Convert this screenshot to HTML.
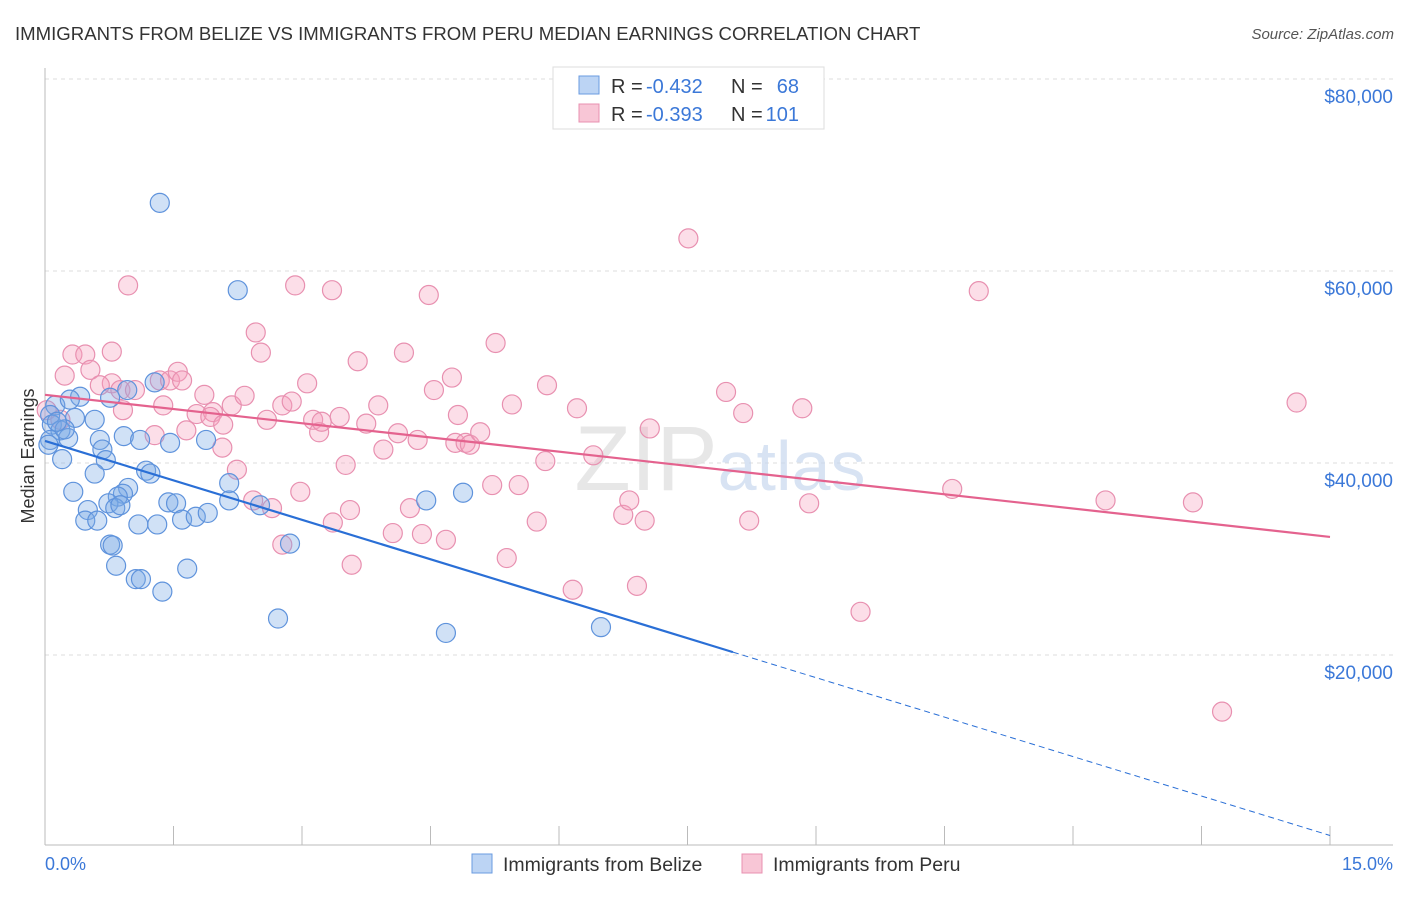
<!DOCTYPE html>
<html><head><meta charset="utf-8"><style>
body{margin:0;background:#fff;font-family:"Liberation Sans",sans-serif}
svg text{font-family:"Liberation Sans",sans-serif}
</style></head><body>
<svg width="1406" height="892" viewBox="0 0 1406 892" xmlns="http://www.w3.org/2000/svg">
<text x="15" y="40" font-size="18.6" fill="#333">IMMIGRANTS FROM BELIZE VS IMMIGRANTS FROM PERU MEDIAN EARNINGS CORRELATION CHART</text>
<text x="1394" y="39" font-size="15" fill="#555" text-anchor="end" font-style="italic">Source: ZipAtlas.com</text>
<g id="grid"></g>
<text x="720" y="490" font-size="92" fill="#ddd" text-anchor="middle" font-family="Liberation Serif" opacity="0.7">ZIP<tspan fill="#c8d8ee" font-family="Liberation Sans" font-size="70">atlas</tspan></text>
<g id="pts"></g>
<g id="lines"></g>
<text transform="translate(34,456) rotate(-90)" font-size="18" fill="#333" text-anchor="middle">Median Earnings</text>
<text x="45" y="870" font-size="18" fill="#3b78d8">0.0%</text>
<text x="1393" y="870" font-size="18" fill="#3b78d8" text-anchor="end">15.0%</text>
<g>
<rect x="553" y="67" width="271" height="62" fill="#fff" stroke="#ddd"/>
<rect x="579" y="76" width="20" height="18" fill="#bcd4f4" stroke="#6a9be0"/>
<rect x="579" y="104" width="20" height="18" fill="#f8c6d6" stroke="#e890b0"/>
<text x="611" y="93" font-size="20" fill="#333">R =</text>
<text x="646" y="93" font-size="20" fill="#3b78d8">-0.432</text>
<text x="731" y="93" font-size="20" fill="#333">N =</text>
<text x="799" y="93" font-size="20" fill="#3b78d8" text-anchor="end">68</text>
<text x="611" y="121" font-size="20" fill="#333">R =</text>
<text x="646" y="121" font-size="20" fill="#3b78d8">-0.393</text>
<text x="731" y="121" font-size="20" fill="#333">N =</text>
<text x="799" y="121" font-size="20" fill="#3b78d8" text-anchor="end">101</text>
</g>
<g>
<rect x="472" y="854" width="20" height="19" fill="#bcd4f4" stroke="#6a9be0"/>
<text x="503" y="871" font-size="19.5" fill="#333">Immigrants from Belize</text>
<rect x="742" y="854" width="20" height="19" fill="#f8c6d6" stroke="#e890b0"/>
<text x="773" y="871" font-size="19.5" fill="#333">Immigrants from Peru</text>
</g>
</svg>
<script>
const yTicks=[20000,40000,60000,80000];
const yTickLabels=["$20,000","$40,000","$60,000","$80,000"];
const xTicks=[0,1.5,3,4.5,6,7.5,9,10.5,12,13.5,15];
const belizeX=[1.34,2.25,1.28,0.96,0.76,0.41,0.12,0.06,0.35,0.58,0.08,0.18,0.27,0.64,0.92,1.11,1.46,1.88,0.06,0.67,0.20,0.71,1.18,1.23,0.58,0.33,0.97,0.91,0.85,0.74,1.44,1.53,2.15,2.15,2.51,0.50,0.82,0.88,0.47,0.61,1.09,1.31,1.60,1.76,1.90,0.76,0.79,0.83,1.06,1.12,1.66,1.37,2.72,2.86,4.45,4.88,4.68,6.49,0.23,0.04,0.14,0.29];
const belizeY=[67.1,58.0,48.4,47.6,46.8,46.9,46.0,45.0,44.7,44.5,44.0,43.4,42.6,42.4,42.8,42.4,42.1,42.4,42.4,41.4,40.4,40.3,39.2,38.9,38.9,37.0,37.4,36.8,36.5,35.8,35.9,35.8,37.9,36.1,35.6,35.1,35.3,35.6,34.0,34.0,33.6,33.6,34.1,34.4,34.8,31.5,31.4,29.3,27.9,27.9,29.0,26.6,23.8,31.6,36.1,36.9,22.3,22.9,43.5,41.9,44.3,46.6];
const peruX=[0.02,0.18,0.32,0.47,0.23,0.53,0.78,0.97,0.78,0.64,0.88,0.91,1.05,1.34,1.46,1.55,1.60,1.38,1.28,1.65,1.77,1.86,1.96,1.93,2.08,2.07,2.18,2.24,2.33,2.46,2.52,2.59,2.43,2.65,2.77,2.92,2.77,2.88,2.98,3.06,3.13,3.20,3.23,3.35,3.36,3.44,3.51,3.56,3.58,3.65,3.75,3.89,3.95,4.06,4.12,4.19,4.26,4.35,4.40,4.48,4.54,4.68,4.75,4.79,4.82,4.91,4.96,5.08,5.22,5.26,5.39,5.45,5.53,5.74,5.84,5.86,6.16,6.21,6.40,6.75,6.82,6.91,7.00,7.06,7.51,7.95,8.15,8.22,8.84,8.92,9.52,10.59,10.90,12.38,13.40,13.74,14.61];
const peruY=[45.5,44.5,51.3,51.3,49.1,49.7,51.6,58.5,48.3,48.1,47.6,45.5,47.6,48.6,48.6,49.5,48.6,46.0,42.9,43.4,45.1,47.1,45.3,44.8,44.0,41.6,46.0,39.3,47.0,53.6,51.5,44.5,36.1,35.3,31.5,58.5,46.0,46.4,37.0,48.3,44.5,43.2,44.3,58.0,33.8,44.8,39.8,35.1,29.4,50.6,44.1,46.0,41.4,32.7,43.1,51.5,35.3,42.4,32.6,57.5,47.6,32.0,48.9,42.1,45.0,42.1,41.9,43.2,37.7,52.5,30.1,46.1,37.7,33.9,40.2,48.1,26.8,45.7,40.8,34.6,36.1,27.2,34.0,43.6,63.4,47.4,45.2,34.0,45.7,35.8,24.5,37.3,57.9,36.1,35.9,14.1,46.3];
const belizeTrend=[[0,42.3],[8.03,20.3],[15,1.2]];
const peruTrend=[[0,47.1],[15,32.3]];
const NS="http://www.w3.org/2000/svg";
const sx=v=>45+v*(1330-45)/15;
const sy=v=>847-v*9.6;
function mk(tag,attrs,parent){const e=document.createElementNS(NS,tag);for(const k in attrs)e.setAttribute(k,attrs[k]);parent.appendChild(e);return e;}
const grid=document.getElementById('grid');
yTicks.forEach((t,i)=>{
 const y=sy(t/1000);
 const l=mk('line',{x1:45,x2:1393,y1:y,y2:y,stroke:'#ddd','stroke-dasharray':'4,4'},grid);
 
 
 const tx=mk('text',{x:1393,y:y+24,'font-size':19,fill:'#3b78d8','text-anchor':'end'},grid);
 tx.textContent=yTickLabels[i];
 
 
});
const topGrid=mk('line',{x1:45,x2:1393,y1:79,y2:79,stroke:'#ddd','stroke-dasharray':'4,4'},grid);


const ax=mk('line',{x1:45,x2:1393,y1:845,y2:845,stroke:'#bbb'},grid);


const ay=mk('line',{x1:45,x2:45,y1:68,y2:845,stroke:'#bbb'},grid);


xTicks.forEach(t=>{
 const x=sx(t);
 const l=mk('line',{x1:x,x2:x,y1:826,y2:845,stroke:'#bbb'},grid);
 
 
});
const pts=document.getElementById('pts');
function drawSeries(X,Y,fill,stroke,name){
 X.forEach((x,i)=>{
  const c=mk('circle',{cx:sx(x),cy:sy(Y[i]),r:9.5,fill:fill,stroke:stroke,'stroke-width':1.2},pts);
  
  
 });
}
drawSeries(peruX,peruY,'rgba(245,160,190,0.35)','#e890b0','peru-point');
drawSeries(belizeX,belizeY,'rgba(120,170,230,0.35)','#5f93dc','belize-point');
const lines=document.getElementById('lines');
const b1=mk('line',{x1:sx(belizeTrend[0][0]),y1:sy(belizeTrend[0][1]),x2:sx(belizeTrend[1][0]),y2:sy(belizeTrend[1][1]),stroke:'#2a6fd6','stroke-width':2.2},lines);


const b2=mk('line',{x1:sx(belizeTrend[1][0]),y1:sy(belizeTrend[1][1]),x2:sx(belizeTrend[2][0]),y2:sy(belizeTrend[2][1]),stroke:'#2a6fd6','stroke-width':1,'stroke-dasharray':'6,4'},lines);


const p1=mk('line',{x1:sx(peruTrend[0][0]),y1:sy(peruTrend[0][1]),x2:sx(peruTrend[1][0]),y2:sy(peruTrend[1][1]),stroke:'#e4628e','stroke-width':2.2},lines);


</script>
</body></html>
